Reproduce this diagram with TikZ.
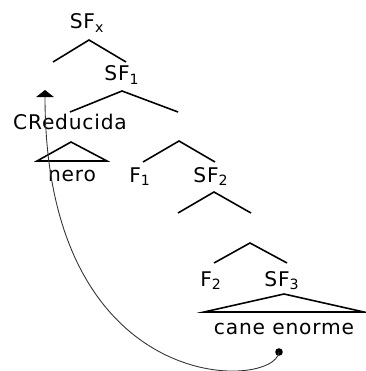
\documentclass[tikz,border=0pt]{standalone}
\usepackage{fontspec}
\setmainfont[LetterSpace=4]{DejaVu Sans}
\usetikzlibrary{arrows.meta}
\begin{document}
\begin{tikzpicture}[x=0.02cm, y=-0.02cm, every node/.style={font=\fontsize{11.5}{13}\selectfont, inner sep=0pt, anchor=base}, branch/.style={line width=0.9pt}, movement/.style={line width=0.5pt, black!80}]
\useasboundingbox (0,0) rectangle (365,371);
% labels
\node (sfx) at (87,29) {SF\textsubscript{x}};
\node (sf1) at (122,81) {SF\textsubscript{1}};
\node (cred) at (70,130) {CReducida};
\node (nero) at (72,181) {nero};
\node (f1) at (140,182) {F\textsubscript{1}};
\node (sf2) at (211,182) {SF\textsubscript{2}};
\node (f2) at (211,286) {F\textsubscript{2}};
\node (sf3) at (282,286) {SF\textsubscript{3}};
\node (cane) at (284,334) {cane enorme};
% branch points
\coordinate (a1) at (89,40);
\coordinate (a1l) at (53,62);
\coordinate (a1r) at (126,62);
\coordinate (a2) at (122,91);
\coordinate (a2l) at (70,112);
\coordinate (a2r) at (178,112);
\coordinate (a3) at (179,141);
\coordinate (a3l) at (143,162);
\coordinate (a3r) at (215,162);
\coordinate (a4) at (214,192);
\coordinate (a4l) at (178,213);
\coordinate (a4r) at (251,213);
\coordinate (a5) at (250,243);
\coordinate (a5l) at (214,263);
\coordinate (a5r) at (287,263);
\coordinate (t1) at (71,142);
\coordinate (t1l) at (37,161);
\coordinate (t1r) at (107,161);
\coordinate (t2) at (284,294);
\coordinate (t2l) at (204,312);
\coordinate (t2r) at (364,312);
\draw[branch] (a1l) -- (a1) -- (a1r);
\draw[branch] (a2l) -- (a2) -- (a2r);
\draw[branch] (a3l) -- (a3) -- (a3r);
\draw[branch] (a4l) -- (a4) -- (a4r);
\draw[branch] (a5l) -- (a5) -- (a5r);
\draw[branch] (t1) -- (t1l) -- (t1r) -- cycle;
\draw[branch] (t2) -- (t2l) -- (t2r) -- cycle;
% movement
\coordinate (trace) at (279,352);
\coordinate (target) at (45,90);
\fill (trace) circle[radius=3.8];
\draw[movement, -{Triangle[width=10pt, length=4pt, black]}] (trace) .. controls (275,390) and (45,400) .. (target);
\end{tikzpicture}
\end{document}
